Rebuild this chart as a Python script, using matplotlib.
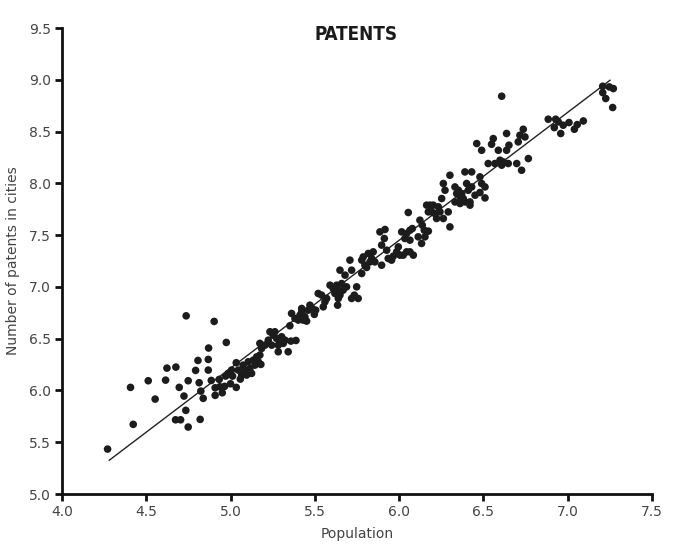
import numpy as np
import matplotlib
matplotlib.use("Agg")
import matplotlib.pyplot as plt
from matplotlib import font_manager as fm

# population (log) vs patents (log)
population = [
    4.271, 4.423, 4.407, 4.512, 4.553, 4.623, 4.676, 4.615, 4.737, 4.696,
    4.724, 4.749, 4.735, 4.674, 4.704, 4.749, 4.820, 4.807, 4.868, 4.870,
    4.903, 4.975, 4.793, 4.868, 4.814, 4.824, 4.838, 4.886, 4.909, 4.909,
    4.937, 4.965, 4.933, 4.951, 4.971, 5.000, 5.012, 5.034, 5.034, 5.058,
    4.986, 5.006, 5.046, 5.066, 5.075, 5.085, 5.095, 5.105, 5.115, 5.125,
    5.135, 5.145, 5.155, 5.165, 5.174, 5.180,
    5.174, 5.184, 5.204, 5.224, 5.234, 5.244, 5.253, 5.263, 5.273, 5.283,
    5.283, 5.293, 5.303, 5.313, 5.323, 5.342, 5.358, 5.388, 5.352, 5.362,
    5.382, 5.402, 5.412, 5.422, 5.431, 5.441, 5.451, 5.422, 5.461, 5.471,
    5.485, 5.497, 5.505, 5.520, 5.540, 5.550, 5.560, 5.570,
    5.590, 5.609, 5.619, 5.629, 5.639, 5.639, 5.649, 5.635, 5.659, 5.668,
    5.688, 5.718, 5.748, 5.757, 5.734, 5.649, 5.679, 5.708, 5.718, 5.778,
    5.778, 5.787, 5.797, 5.807, 5.817, 5.827, 5.846, 5.837, 5.856, 5.896,
    5.886, 5.916, 5.912, 5.896, 5.926, 5.935, 5.955, 5.965, 5.985, 5.995,
    6.005, 6.024, 6.044, 6.064, 6.084, 6.015, 6.034, 6.044, 6.064, 6.078,
    6.064, 6.054, 6.123, 6.137, 6.149, 6.113, 6.153, 6.133, 6.163, 6.173,
    6.183, 6.193, 6.202, 6.212, 6.222, 6.232, 6.242, 6.262, 6.252, 6.262,
    6.272, 6.291, 6.301, 6.301, 6.173, 6.331, 6.331, 6.341, 6.351, 6.361,
    6.371, 6.380, 6.361, 6.390, 6.390, 6.400, 6.410, 6.420, 6.420, 6.430,
    6.430, 6.450, 6.479, 6.489, 6.479, 6.509, 6.509, 6.460, 6.489, 6.528,
    6.558, 6.548, 6.568, 6.588, 6.598, 6.608, 6.617, 6.637, 6.637, 6.651,
    6.647, 6.697, 6.706, 6.716, 6.736, 6.746, 6.726, 6.766, 6.608,
    6.884, 6.920, 6.928, 6.944, 6.958, 6.973, 7.007, 7.039, 7.056, 7.092,
    7.207, 7.207, 7.225, 7.246, 7.270, 7.266,
]
patents = [
    5.434, 5.673, 6.030, 6.094, 5.917, 6.216, 6.226, 6.100, 6.721, 6.030,
    5.946, 6.094, 5.808, 5.717, 5.717, 5.647, 5.721, 6.290, 6.300, 6.410,
    6.667, 6.464, 6.194, 6.197, 6.075, 5.994, 5.924, 6.097, 5.953, 6.026,
    6.036, 6.040, 6.107, 5.978, 6.139, 6.065, 6.139, 6.030, 6.268, 6.110,
    6.165, 6.197, 6.197, 6.149, 6.245, 6.197, 6.149, 6.277, 6.213, 6.165,
    6.293, 6.245, 6.325, 6.277, 6.342, 6.252,
    6.455, 6.406, 6.438, 6.486, 6.567, 6.438, 6.535, 6.567, 6.503, 6.438,
    6.374, 6.486, 6.519, 6.455, 6.486, 6.374, 6.477, 6.483, 6.625, 6.744,
    6.696, 6.680, 6.728, 6.760, 6.680, 6.712, 6.670, 6.792, 6.776, 6.824,
    6.792, 6.735, 6.776, 6.937, 6.921, 6.808, 6.856, 6.889,
    7.017, 6.985, 6.937, 7.017, 6.969, 6.889, 6.921, 6.824, 7.033, 6.969,
    7.001, 6.889, 7.001, 6.889, 6.921, 7.162, 7.114, 7.259, 7.162, 7.130,
    7.259, 7.290, 7.210, 7.188, 7.323, 7.242, 7.339, 7.275, 7.242, 7.210,
    7.532, 7.555, 7.468, 7.404, 7.355, 7.275, 7.259, 7.297, 7.339, 7.387,
    7.307, 7.307, 7.339, 7.339, 7.307, 7.532, 7.468, 7.516, 7.548, 7.564,
    7.452, 7.719, 7.645, 7.597, 7.548, 7.484, 7.484, 7.420, 7.790, 7.725,
    7.790, 7.725, 7.790, 7.709, 7.661, 7.774, 7.725, 7.661, 7.854, 7.999,
    7.934, 7.725, 8.079, 7.580, 7.539, 7.966, 7.821, 7.902, 7.934, 7.870,
    7.902, 7.854, 7.806, 7.821, 8.111, 7.999, 7.934, 7.821, 7.790, 8.111,
    7.966, 7.886, 8.063, 7.999, 7.912, 7.966, 7.860, 8.385, 8.320, 8.192,
    8.433, 8.378, 8.192, 8.320, 8.224, 8.176, 8.208, 8.320, 8.482, 8.369,
    8.192, 8.192, 8.401, 8.465, 8.523, 8.449, 8.127, 8.240, 8.842,
    8.620, 8.539, 8.620, 8.594, 8.482, 8.562, 8.588, 8.523, 8.568, 8.603,
    8.938, 8.877, 8.820, 8.932, 8.916, 8.733,
]

# trend line as drawn in the reference (slope / intercept)
fit_slope = 1.236
fit_intercept = 0.035

x_ticks = [4.0, 4.5, 5.0, 5.5, 6.0, 6.5, 7.0, 7.5]
y_ticks = [5.0, 5.5, 6.0, 6.5, 7.0, 7.5, 8.0, 8.5, 9.0, 9.5]


def condensed_title_font():
    # look for any installed narrow/condensed face, bold first
    narrow = []
    for f in fm.fontManager.ttflist:
        n = f.name.lower()
        if "condensed" in n or "narrow" in n or "condensed" in str(f.stretch):
            narrow.append(f)
    narrow.sort(key=lambda f: (0 if str(f.weight) in ("bold", "700", "600") else 1,
                               "italic" in f.style or "oblique" in f.style))
    for f in narrow:
        if f.style == "normal":
            return fm.FontProperties(fname=f.fname, size=13.5)
    return fm.FontProperties(family="DejaVu Sans", weight="bold", size=12)


x = np.array(population)
y = np.array(patents)

fig = plt.figure(figsize=(6.8, 5.51), dpi=100)
ax = fig.add_axes([0.091, 0.1034, 0.868, 0.8456])

ax.scatter(x, y, s=30, color="#1c1c1c", edgecolors="none", zorder=3)

xl = np.array([x.min() + 0.01, x.max() - 0.02])
ax.plot(xl, fit_slope * xl + fit_intercept, color="#222222", lw=1.0, zorder=2)

ax.set_xlim(4.0, 7.5)
ax.set_ylim(5.0, 9.5)
ax.set_xticks(x_ticks)
ax.set_yticks(y_ticks)
ax.set_xticklabels([f"{t:.1f}" for t in x_ticks])
ax.set_yticklabels([f"{t:.1f}" for t in y_ticks])

for s in ["top", "right"]:
    ax.spines[s].set_visible(False)
for s in ["left", "bottom"]:
    ax.spines[s].set_linewidth(2)
    ax.spines[s].set_color("#111111")
ax.tick_params(direction="out", length=5, width=2, color="#111111",
               labelsize=10, labelcolor="#444444", pad=3)

ax.set_xlabel("Population", fontsize=10, color="#444444", labelpad=6)
ax.set_ylabel("Number of patents in cities", fontsize=10, color="#444444", labelpad=6)

fig.text(0.524, 1 - 25 / 551, "PATENTS", ha="center", va="top",
         fontproperties=condensed_title_font(), color="#1a1a1a")

fig.savefig("out.png", dpi=100)
